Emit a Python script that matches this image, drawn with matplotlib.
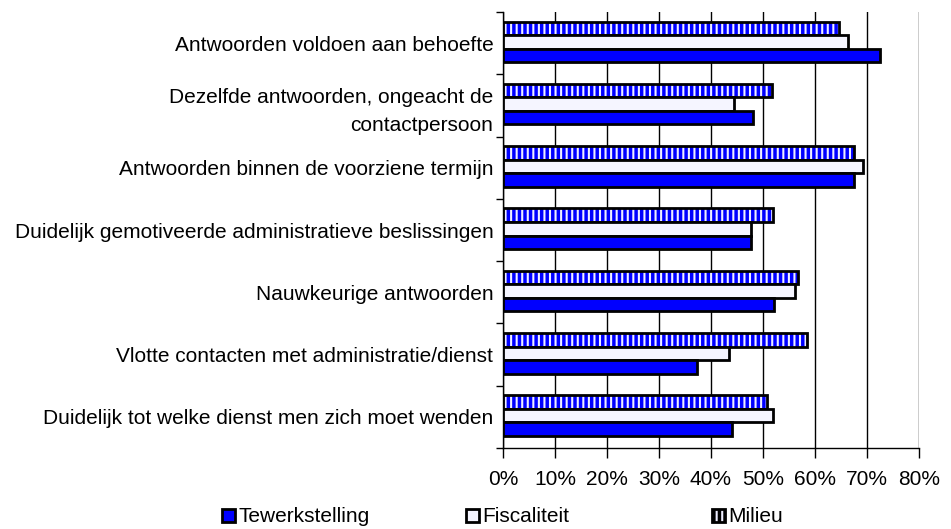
import matplotlib
matplotlib.use("Agg")
import matplotlib.pyplot as plt
import numpy as np
from matplotlib.patches import Patch

plt.rcParams['font.family'] = ['Liberation Sans', 'DejaVu Sans']
plt.rcParams['hatch.linewidth'] = 2.5

# ── Data (percentages) ────────────────────────────────────────────────────────
categories = [
    "Antwoorden voldoen aan behoefte",
    "Dezelfde antwoorden, ongeacht de\ncontactpersoon",
    "Antwoorden binnen de voorziene termijn",
    "Duidelijk gemotiveerde administratieve beslissingen",
    "Nauwkeurige antwoorden",
    "Vlotte contacten met administratie/dienst",
    "Duidelijk tot welke dienst men zich moet wenden",
]
tewerkstelling = [72.5, 48.1, 67.5, 47.6, 52.1, 37.3, 44.0]
fiscaliteit    = [66.3, 44.4, 69.2, 47.6, 56.2, 43.5, 51.9]
milieu         = [64.6, 51.7, 67.5, 51.9, 56.7, 58.5, 50.8]
x_ticks = [0, 10, 20, 30, 40, 50, 60, 70, 80]

BLUE = '#0000FF'
LIGHT = '#F5F5FF'
STRIPE_BG = '#EEEEFF'
EDGE_LW = 2.0
H = 0.217
FS = 15

fig = plt.figure(figsize=(9.51, 5.29), dpi=100)
ax = fig.add_axes([503 / 951, 1 - 448 / 529, (919 - 503) / 951, (448 - 12) / 529])

y = np.arange(len(categories)) - 0.02

# Milieu: blue vertical stripes, then a black outline on top
ax.barh(y - H, milieu, height=H, color=STRIPE_BG, edgecolor=BLUE,
        hatch='|||', linewidth=0, zorder=3)
ax.barh(y - H, milieu, height=H, fill=False, edgecolor='k',
        linewidth=EDGE_LW, zorder=4)
ax.barh(y, fiscaliteit, height=H, color=LIGHT, edgecolor='k',
        linewidth=EDGE_LW, zorder=4)
ax.barh(y + H, tewerkstelling, height=H, color=BLUE, edgecolor='k',
        linewidth=EDGE_LW, zorder=4)

ax.set_xlim(0, 80)
ax.set_ylim(len(categories) - 0.5, -0.5)

ax.set_xticks(x_ticks)
ax.set_xticklabels([f"{v}%" for v in x_ticks], fontsize=FS)
ax.tick_params(axis='x', direction='out', length=7, width=1, pad=9)
ax.grid(axis='x', color='k', lw=1, zorder=1)

ax.set_yticks(np.arange(len(categories)))
ax.set_yticklabels(categories, fontsize=FS, ha='right', linespacing=1.55)
ax.tick_params(axis='y', which='major', length=0, pad=7)
ax.set_yticks(np.arange(len(categories) + 1) - 0.5, minor=True)
ax.tick_params(axis='y', which='minor', direction='out', length=5, width=1)

for s in ['top', 'right']:
    ax.spines[s].set_visible(False)
ax.spines['left'].set_linewidth(1)
ax.spines['bottom'].set_linewidth(1)

# ── Legend: one entry per fixed slot, as in the original ──────────────────────
handles = [
    Patch(facecolor=BLUE, edgecolor='k', linewidth=EDGE_LW, label='Tewerkstelling'),
    Patch(facecolor=LIGHT, edgecolor='k', linewidth=EDGE_LW, label='Fiscaliteit'),
    Patch(facecolor=STRIPE_BG, edgecolor='k', linewidth=EDGE_LW, hatch='|||', label='Milieu'),
]
slots = [222, 466, 712]
for h, x0 in zip(handles, slots):
    fig.legend(handles=[h], loc='center left', bbox_to_anchor=(x0 / 951, 1 - 517 / 529),
               frameon=False, fontsize=FS, handlelength=0.6, handleheight=0.6,
               handletextpad=0.2, borderaxespad=0, borderpad=0)

fig.savefig("out.png", dpi=100)
